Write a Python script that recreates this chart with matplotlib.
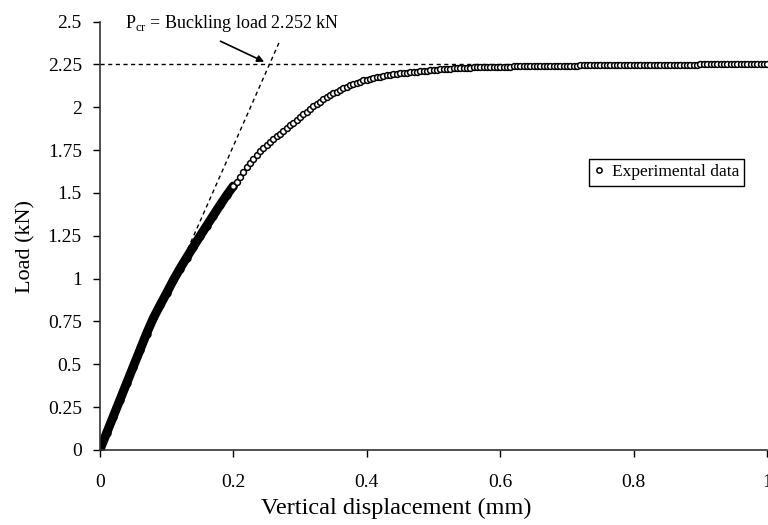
import matplotlib.pyplot as plt

plt.rcParams['font.family'] = ['Liberation Serif', 'DejaVu Serif']
plt.rcParams['mathtext.fontset'] = 'custom'
plt.rcParams['mathtext.rm'] = 'Liberation Serif'

# Experimental readings, dense low-displacement part (points overlap into a solid band)
disp_dense = [0.00, 0.01, 0.02, 0.03, 0.04, 0.05, 0.06, 0.07, 0.08, 0.09, 0.10,
              0.11, 0.12, 0.13, 0.14, 0.15, 0.16, 0.17, 0.18, 0.19, 0.20]
load_dense = [0.000, 0.097, 0.194, 0.291, 0.388, 0.485, 0.582, 0.679, 0.768, 0.843, 0.915,
              0.990, 1.058, 1.122, 1.185, 1.247, 1.308, 1.368, 1.428, 1.486, 1.540]

# Experimental readings beyond 0.2 mm
disp = [0.200, 0.205, 0.210, 0.215, 0.220, 0.225, 0.230, 0.235, 0.240, 0.245,
        0.250, 0.255, 0.260, 0.265, 0.270, 0.275, 0.280, 0.285, 0.290, 0.295,
        0.300, 0.305, 0.310, 0.315, 0.320, 0.325, 0.330, 0.335, 0.340, 0.345,
        0.350, 0.355, 0.360, 0.365, 0.370, 0.375, 0.380, 0.385, 0.390, 0.395,
        0.400, 0.405, 0.410, 0.415, 0.420, 0.425, 0.430, 0.435, 0.440, 0.445,
        0.450, 0.455, 0.460, 0.465, 0.470, 0.475, 0.480, 0.485, 0.490, 0.495,
        0.500, 0.505, 0.510, 0.515, 0.520, 0.525, 0.530, 0.535, 0.540, 0.545,
        0.550, 0.555, 0.560, 0.565, 0.570, 0.575, 0.580, 0.585, 0.590, 0.595,
        0.600, 0.605, 0.610, 0.615, 0.620, 0.625, 0.630, 0.635, 0.640, 0.645,
        0.650, 0.655, 0.660, 0.665, 0.670, 0.675, 0.680, 0.685, 0.690, 0.695,
        0.700, 0.705, 0.710, 0.715, 0.720, 0.725, 0.730, 0.735, 0.740, 0.745,
        0.750, 0.755, 0.760, 0.765, 0.770, 0.775, 0.780, 0.785, 0.790, 0.795,
        0.800, 0.805, 0.810, 0.815, 0.820, 0.825, 0.830, 0.835, 0.840, 0.845,
        0.850, 0.855, 0.860, 0.865, 0.870, 0.875, 0.880, 0.885, 0.890, 0.895,
        0.900, 0.905, 0.910, 0.915, 0.920, 0.925, 0.930, 0.935, 0.940, 0.945,
        0.950, 0.955, 0.960, 0.965, 0.970, 0.975, 0.980, 0.985, 0.990, 0.995, 1.000]
load = [1.540, 1.565, 1.595, 1.622, 1.650, 1.673, 1.700, 1.722, 1.742, 1.760,
        1.778, 1.795, 1.812, 1.830, 1.845, 1.862, 1.878, 1.895, 1.910, 1.925,
        1.942, 1.958, 1.974, 1.990, 2.005, 2.019, 2.032, 2.045, 2.057, 2.069,
        2.080, 2.091, 2.101, 2.111, 2.120, 2.128, 2.136, 2.143, 2.150, 2.156,
        2.161, 2.166, 2.171, 2.175, 2.179, 2.183, 2.186, 2.189, 2.192, 2.195,
        2.197, 2.199, 2.201, 2.204, 2.206, 2.208, 2.210, 2.212, 2.214, 2.216,
        2.218, 2.219, 2.221, 2.222, 2.224, 2.225, 2.226, 2.227, 2.228, 2.229,
        2.230, 2.231, 2.232, 2.232, 2.233, 2.234, 2.234, 2.235, 2.235, 2.236,
        2.236, 2.237, 2.237, 2.237, 2.238, 2.238, 2.239, 2.239, 2.239, 2.240,
        2.240, 2.240, 2.241, 2.241, 2.241, 2.241, 2.242, 2.242, 2.242, 2.242,
        2.243, 2.243, 2.243, 2.243, 2.244, 2.244, 2.244, 2.244, 2.244, 2.245,
        2.245, 2.245, 2.245, 2.245, 2.246, 2.246, 2.246, 2.246, 2.246, 2.246,
        2.247, 2.247, 2.247, 2.247, 2.247, 2.247, 2.248, 2.248, 2.248, 2.248,
        2.248, 2.248, 2.248, 2.249, 2.249, 2.249, 2.249, 2.249, 2.249, 2.249,
        2.250, 2.250, 2.250, 2.250, 2.250, 2.250, 2.250, 2.250, 2.251, 2.251,
        2.251, 2.251, 2.251, 2.251, 2.251, 2.251, 2.251, 2.252, 2.252, 2.252, 2.252]

# Buckling load and the initial-stiffness line drawn to find it
p_cr = 2.252
stiff_disp = [0.127, 0.270]
stiff_load = [1.130, 2.390]

x_ticks = [0, 0.2, 0.4, 0.6, 0.8, 1]
x_labels = ['0', '0.2', '0.4', '0.6', '0.8', '1']
y_ticks = [0, 0.25, 0.5, 0.75, 1, 1.25, 1.5, 1.75, 2, 2.25, 2.5]
y_labels = ['0', '0.25', '0.5', '0.75', '1', '1.25', '1.5', '1.75', '2', '2.25', '2.5']

fig = plt.figure(figsize=(7.68, 5.25), dpi=100)
ax = fig.add_axes([0.130, 0.143, 0.869, 0.816])

# dashed guide lines
ax.plot([0, 1], [p_cr, p_cr], color='black', lw=1.0, ls=(0, (3, 2.5)), zorder=1)
ax.plot(stiff_disp, stiff_load, color='black', lw=1.0, ls=(0, (3, 2.5)), zorder=1)

# data
ax.plot(disp_dense, load_dense, 'o-', color='black', lw=6.5, ms=5, mfc='black',
        mec='black', solid_capstyle='round', zorder=2)
ax.plot(disp, load, 'o', ms=4.2, mfc='white', mec='black', mew=1.1, zorder=3,
        label='Experimental data')

ax.text(0.0375, 2.49, r'P$_{\rm cr}$ = Buckling load 2.252 kN', fontsize=13,
        va='center', ha='left')
ax.annotate('', xy=(0.250, 2.258), xytext=(0.177, 2.392),
            arrowprops=dict(arrowstyle='-|>', color='black', lw=1.2, mutation_scale=10))

ax.set_xlim(0, 1)
ax.set_ylim(0, 2.5)
ax.set_xticks(x_ticks)
ax.set_xticklabels(x_labels)
ax.set_yticks(y_ticks)
ax.set_yticklabels(y_labels)
ax.tick_params(direction='out', length=5, width=1, labelsize=14, pad=8)
ax.tick_params(axis='x', pad=12)

for side in ['top', 'right']:
    ax.spines[side].set_visible(False)
for side in ['left', 'bottom']:
    ax.spines[side].set_linewidth(1.2)
    ax.spines[side].set_color('#333333')

ax.set_xlabel('Vertical displacement (mm)', fontsize=17.5)
ax.set_ylabel('Load (kN)', fontsize=16)
ax.xaxis.set_label_coords(0.444, -0.111)
ax.yaxis.set_label_coords(-0.096, 0.476)

leg = ax.legend(loc='upper right', bbox_to_anchor=(0.9655, 0.679), borderaxespad=0,
                fontsize=12.5, fancybox=False, edgecolor='black', framealpha=1,
                handlelength=0.6, handletextpad=0.4, borderpad=0.3, markerscale=0.9)
leg.get_frame().set_linewidth(1.0)

fig.savefig('out.png', dpi=100)
